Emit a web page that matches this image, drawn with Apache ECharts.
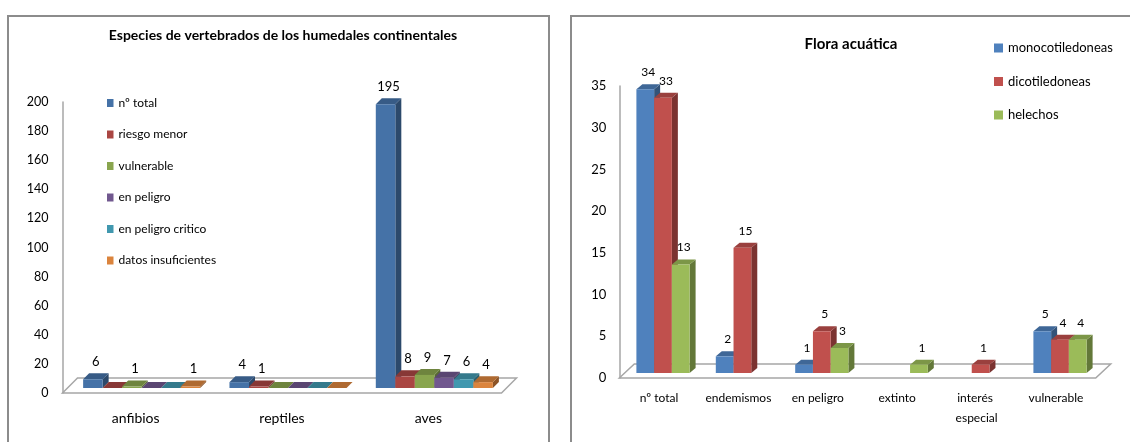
<!DOCTYPE html>
<html>
<head>
<meta charset="utf-8">
<script src="https://cdn.jsdelivr.net/npm/echarts@6/dist/echarts.min.js"></script>
<style>
  html, body { margin: 0; padding: 0; background: #fff; }
  #chart { width: 1130px; height: 442px; }
</style>
</head>
<body>
<div id="chart"></div>
<script>
// datos: vertebrados (izquierda)
const vertCats = ["anfibios", "reptiles", "aves"];
const vertNames = ["nº total", "riesgo menor", "vulnerable", "en peligro", "en peligro critico", "datos insuficientes"];
const vertTotal = [6, 4, 195];
const vertRiesgo = [0, 1, 8];
const vertVulnerable = [1, 0, 9];
const vertPeligro = [0, 0, 7];
const vertCritico = [0, 0, 6];
const vertDatos = [1, 0, 4];

// datos: flora acuática (derecha), null = celda vacía
const floraCats = ["nº total", "endemismos", "en peligro", "extinto", "interés especial", "vulnerable"];
const floraNames = ["monocotiledoneas", "dicotiledoneas", "helechos"];
const floraMono = [34, 2, 1, null, null, 5];
const floraDico = [33, 15, 5, null, 1, 4];
const floraHele = [13, null, 3, 1, null, 4];

const FONT = "Lato, 'Open Sans', sans-serif";
const vertColors = ["#4572A7", "#AA4643", "#89A54E", "#71588F", "#4198AF", "#DB843D"];
const floraColors = ["#4F81BD", "#C0504D", "#9BBB59"];

function shade(hex, f) {
  const n = parseInt(hex.slice(1), 16);
  const r = Math.round(((n >> 16) & 255) * f),
    g = Math.round(((n >> 8) & 255) * f),
    b = Math.round((n & 255) * f);
  return "rgb(" + r + "," + g + "," + b + ")";
}

// barra 3D: cara frontal, superior y lateral
function bar3d(cfg, idx) {
  return function (params, api) {
    const v = api.value(1);
    if (v === null || v === undefined || isNaN(v)) return;
    const cat = api.value(0);
    const p0 = api.coord([cat, 0]);
    const p1 = api.coord([cat, v]);
    const band = api.size([1, 0])[0];
    const w = (band * cfg.group) / cfg.n;
    const x = p0[0] - (band * cfg.group) / 2 + idx * w + cfg.ox;
    const yb = p0[1] + cfg.oy,
      yt = p1[1] + cfg.oy;
    const d = cfg.dx,
      dy = cfg.dy;
    const col = cfg.colors[idx];
    const kids = [
      {
        type: "polygon",
        shape: { points: [[x + w, yb], [x + w + d, yb - dy], [x + w + d, yt - dy], [x + w, yt]] },
        style: { fill: shade(col, 0.64) }
      },
      {
        type: "polygon",
        shape: { points: [[x, yt], [x + d, yt - dy], [x + w + d, yt - dy], [x + w, yt]] },
        style: { fill: shade(col, 0.8) }
      },
      {
        type: "rect",
        shape: { x: x, y: yt, width: w, height: yb - yt },
        style: { fill: col }
      }
    ];
    if (v > 0)
      kids.push({
        type: "text",
        style: {
          text: String(v),
          x: x + w / 2 + d / 2,
          y: yt - dy - cfg.gap,
          align: "center",
          verticalAlign: "bottom",
          fontSize: cfg.labelSize,
          fontFamily: FONT,
          fill: "#000"
        }
      });
    return { type: "group", children: kids };
  };
}

// suelo 3D
function floor(fx, fy) {
  return function (params) {
    const cs = params.coordSys;
    const yb = cs.y + cs.height,
      x0 = cs.x,
      x1 = cs.x + cs.width;
    return {
      type: "polygon",
      shape: { points: [[x0, yb], [x0 + fx, yb - fy], [x1 + fx, yb - fy], [x1, yb]] },
      style: { fill: "#fff", stroke: "#A6A6A6", lineWidth: 1.5 }
    };
  };
}

const vertCfg = { n: 6, group: 0.8, ox: 6, oy: -5, dx: 6, dy: 6, gap: 5, labelSize: 13, colors: vertColors };
const floraCfg = { n: 3, group: 0.67, ox: 4, oy: -5, dx: 6, dy: 5, gap: 6, labelSize: 12, colors: floraColors };

const vertData = [vertTotal, vertRiesgo, vertVulnerable, vertPeligro, vertCritico, vertDatos];
const floraData = [floraMono, floraDico, floraHele];

let series = [
  { type: "custom", name: "suelo1", xAxisIndex: 0, yAxisIndex: 0, z: 1, silent: true, data: [[0, 0]], renderItem: floor(15, 15) },
  { type: "custom", name: "suelo2", xAxisIndex: 1, yAxisIndex: 1, z: 1, silent: true, data: [[0, 0]], renderItem: floor(15, 14) }
];
vertNames.forEach(function (name, i) {
  series.push({
    type: "custom",
    name: name,
    xAxisIndex: 0,
    yAxisIndex: 0,
    z: 2,
    clip: false,
    itemStyle: { color: vertColors[i] },
    encode: { x: 0, y: 1 },
    data: vertData[i].map(function (v, k) { return [k, v]; }),
    renderItem: bar3d(vertCfg, i)
  });
});
floraNames.forEach(function (name, i) {
  series.push({
    type: "custom",
    name: name,
    xAxisIndex: 1,
    yAxisIndex: 1,
    z: 2,
    clip: false,
    itemStyle: { color: floraColors[i] },
    encode: { x: 0, y: 1 },
    data: floraData[i].map(function (v, k) { return [k, v]; }),
    renderItem: bar3d(floraCfg, i)
  });
});

const myChart = echarts.init(document.getElementById("chart"));
const option = {
  animation: false,
  textStyle: { fontFamily: FONT },
  graphic: [
    { type: "rect", shape: { x: 8, y: 16, width: 541, height: 500 }, style: { fill: "none", stroke: "#8C8C8C", lineWidth: 2 } },
    { type: "rect", shape: { x: 571, y: 16, width: 600, height: 500 }, style: { fill: "none", stroke: "#8C8C8C", lineWidth: 2 } },
    {
      type: "text", x: 283, y: 35,
      style: { text: "Especies de vertebrados de los humedales continentales", align: "center", verticalAlign: "middle", font: "bold 14px " + FONT, fill: "#000" }
    },
    {
      type: "text", x: 851, y: 44,
      style: { text: "Flora acuática", align: "center", verticalAlign: "middle", font: "bold 15px " + FONT, fill: "#000" }
    }
  ],
  legend: [
    {
      data: vertNames,
      orient: "vertical",
      left: 107,
      top: 96,
      padding: 0,
      icon: "rect",
      itemWidth: 6.5,
      itemHeight: 8,
      itemGap: 17.5,
      textStyle: { fontSize: 12, lineHeight: 14, color: "#000", fontFamily: FONT }
    },
    {
      data: floraNames,
      orient: "vertical",
      left: 994,
      top: 40,
      padding: 0,
      icon: "rect",
      itemWidth: 9,
      itemHeight: 9,
      itemGap: 17.5,
      textStyle: { fontSize: 13, lineHeight: 16, color: "#000", fontFamily: FONT }
    }
  ],
  grid: [
    { left: 62.5, right: 628.5, top: 102, bottom: 49 },
    { left: 619.3, right: 34.3, top: 86, bottom: 64 }
  ],
  xAxis: [
    {
      type: "category",
      gridIndex: 0,
      data: vertCats,
      axisLine: { show: false },
      axisTick: { show: false },
      axisLabel: { fontSize: 14, margin: 18, color: "#000" }
    },
    {
      type: "category",
      gridIndex: 1,
      data: floraCats,
      axisLine: { show: false },
      axisTick: { show: false },
      axisLabel: { fontSize: 12, lineHeight: 20, margin: 10, color: "#000", width: 70, overflow: "break", interval: 0 }
    }
  ],
  yAxis: [
    {
      type: "value",
      gridIndex: 0,
      min: 0,
      max: 200,
      interval: 20,
      axisLine: { show: true, lineStyle: { color: "#A6A6A6", width: 1.5 } },
      axisTick: { show: false },
      splitLine: { show: false },
      axisLabel: { fontSize: 12.5, margin: 14, color: "#000" }
    },
    {
      type: "value",
      gridIndex: 1,
      min: 0,
      max: 35,
      interval: 5,
      axisLine: { show: true, lineStyle: { color: "#A6A6A6", width: 1.5 } },
      axisTick: { show: false },
      splitLine: { show: false },
      axisLabel: { fontSize: 13, margin: 13, color: "#000" }
    }
  ],
  series: series
};
myChart.setOption(option);
</script>
</body>
</html>
